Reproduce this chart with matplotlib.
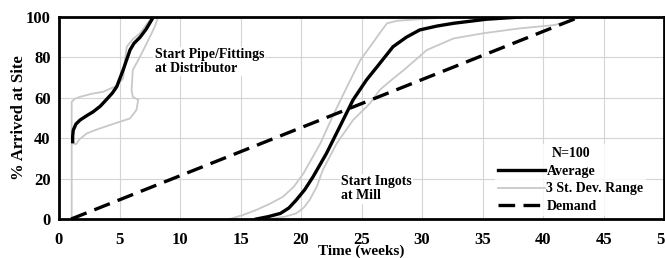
import matplotlib
matplotlib.use('Agg')
import matplotlib.pyplot as plt

plt.rcParams['font.family'] = 'Liberation Serif'

# Pipe/Fittings (start at distributor)
pipe_avg_x = [1.13, 1.13, 1.18, 1.4, 1.74, 2.3, 2.8, 3.4, 3.9, 4.4, 4.77, 5.3, 5.6, 5.87, 6.2, 6.7, 7.2, 7.8]
pipe_avg_y = [38.3, 41, 44, 47, 49, 51.2, 53, 55.8, 59, 62.3, 65.5, 73.8, 79, 83.7, 87, 90, 94, 100]
pipe_hi_x = [1.05, 1.05, 1.3, 1.74, 2.7, 3.66, 4.77, 5.3, 5.45, 5.6, 6.1, 6.7, 7.5, 7.85]
pipe_hi_y = [0, 58, 59.5, 60.5, 62, 63, 66, 69.6, 78.7, 85.3, 89, 92, 98.5, 100]
pipe_lo_x = [1.18, 1.4, 1.7, 2.3, 3.2, 4.2, 5.1, 5.87, 6.4, 6.55, 6.1, 6.0, 6.1, 6.55, 7.25, 7.9, 8.2]
pipe_lo_y = [37.5, 37, 39.5, 42.4, 44.5, 46.5, 48.3, 49.8, 54, 59, 60.5, 63.9, 73.8, 78.7, 87, 95, 100]

# Ingots (start at mill)
ing_avg_x = [16.3, 17.3, 18.3, 19.0, 19.6, 20.3, 21.0, 22.1, 23.2, 24.3, 25.4, 26.3, 27.6, 28.7, 29.8, 31.2, 32.6, 35.3, 38.1]
ing_avg_y = [0, 1.2, 2.8, 5.5, 9.4, 14.5, 21, 32.5, 45.7, 59, 68.8, 75.5, 85.3, 90, 93.6, 95.5, 96.9, 98.9, 100]
ing_hi_x = [14.1, 15.2, 16.3, 17.4, 18.5, 19.4, 20.2, 21.6, 22.7, 23.8, 24.9, 25.7, 26.5, 27.1, 28.0, 29.8, 32.6]
ing_hi_y = [0, 2, 4.5, 7.5, 11, 16, 22.6, 37.5, 52, 65.5, 78.7, 85.3, 92, 96.9, 98.2, 98.9, 100]
ing_lo_x = [17.7, 18.7, 19.6, 20.2, 20.7, 21.3, 21.8, 22.95, 24.3, 25.7, 26.5, 27.5, 28.5, 30.4, 32.6, 35.1, 38.1, 40.9, 42.5, 43.0]
ing_lo_y = [0.3, 1.2, 2.8, 5.5, 9.4, 16, 24.3, 37.5, 49, 57.3, 63.9, 69, 73.8, 83.7, 89.4, 92, 94.4, 96, 98.5, 100]

# Demand
demand_x = [1, 43]
demand_y = [0, 100]

gray = '#c8c8c8'

fig = plt.figure(figsize=(6.65, 2.58), dpi=100)
ax = fig.add_axes([0.0887, 0.151, 0.910, 0.783])

ax.plot(pipe_hi_x, pipe_hi_y, color=gray, lw=1.3, label='3 St. Dev. Range')
ax.plot(pipe_lo_x, pipe_lo_y, color=gray, lw=1.3)
ax.plot(ing_hi_x, ing_hi_y, color=gray, lw=1.3)
ax.plot(ing_lo_x, ing_lo_y, color=gray, lw=1.3)
ax.plot(pipe_avg_x, pipe_avg_y, color='black', lw=2.4, label='Average')
ax.plot(ing_avg_x, ing_avg_y, color='black', lw=2.4)
ax.plot(demand_x, demand_y, color='black', lw=2.4, dashes=(5, 2.5), label='Demand')

ax.set_xlim(0, 50)
ax.set_ylim(0, 100)
ax.set_xticks(range(0, 51, 5))
ax.set_yticks(range(0, 101, 20))
ax.grid(True, color='#d4d4d4', lw=0.8)
ax.tick_params(length=0, labelsize=12, pad=9)
ax.tick_params(axis='y', pad=6)
for lab in ax.get_xticklabels() + ax.get_yticklabels():
    lab.set_fontweight('bold')
for s in ax.spines.values():
    s.set_linewidth(2)

ax.set_xlabel('Time (weeks)', fontsize=11, fontweight='bold', labelpad=-2.5)
ax.set_ylabel('% Arrived at Site', fontsize=12, fontweight='bold', labelpad=-1)

box = dict(facecolor='white', edgecolor='none', pad=1)
ax.text(7.9, 78, 'Start Pipe/Fittings\nat Distributor', fontsize=10, fontweight='bold',
        linespacing=1.1, va='center', ha='left', bbox=box)
ax.text(23.3, 15, 'Start Ingots\nat Mill', fontsize=10, fontweight='bold',
        linespacing=1.1, va='center', ha='left', bbox=box)

h, l = ax.get_legend_handles_labels()
order = [1, 0, 2]
leg = ax.legend([h[i] for i in order], [l[i] for i in order], title='N=100',
                loc='lower right', bbox_to_anchor=(0.982, -0.02), frameon=True,
                prop={'size': 10, 'weight': 'bold'}, title_fontsize=10,
                handlelength=3.4, handletextpad=0.1,
                labelspacing=0.35, borderpad=0.2, fancybox=False)
leg.get_frame().set_edgecolor('none')
leg.get_title().set_fontweight('bold')

fig.savefig('out.png', dpi=100)
